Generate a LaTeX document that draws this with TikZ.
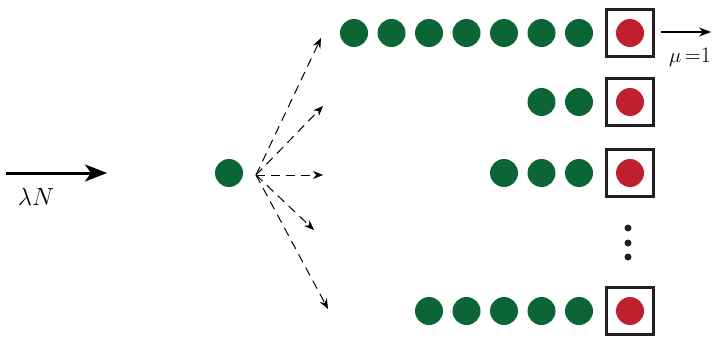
\documentclass[tikz,border=0pt]{standalone}
\usetikzlibrary{arrows.meta}
\definecolor{dgreen}{HTML}{0B6535}
\definecolor{dred}{HTML}{C0202E}
\definecolor{boxc}{HTML}{231F20}
\begin{document}
\begin{tikzpicture}[x=1pt,y=-1pt,
  gdot/.style={circle,fill=dgreen,minimum size=28pt,inner sep=0pt},
  rdot/.style={circle,fill=dred,minimum size=28pt,inner sep=0pt},
  server/.style={draw=boxc,line width=3pt,minimum size=47pt,inner sep=0pt},
  bdot/.style={circle,fill=boxc,minimum size=7pt,inner sep=0pt},
  darr/.style={dashed,dash pattern=on 9pt off 6pt,line width=1pt,-{Stealth[length=10pt,width=8pt]}},
  lbl/.style={inner sep=0pt,font=\fontsize{27}{30}\selectfont}]
\useasboundingbox (0,0) rectangle (714,337);
% arrival arrow
\coordinate (ain) at (6,173);
\coordinate (aout) at (107,173);
\draw[line width=3pt,-{Stealth[length=22pt,width=17pt,inset=6pt]}] (ain) -- (aout);
\node[lbl] (lam) at (36,197) {$\lambda N$};
% source
\node[gdot] (src) at (229,173) {};
\coordinate (o) at (256,175);
\coordinate (t1) at (321,38);
\coordinate (t2) at (323,106);
\coordinate (t3) at (323,175);
\coordinate (t4) at (314,230);
\coordinate (t5) at (328,309);
\foreach \t in {t1,t2,t3,t4,t5}
  \draw[darr] (o) -- (\t);
% servers
\foreach \n/\y in {1/33,2/102,3/173,5/311}{
  \node[server] (s\n) at (630,\y) {};
  \node[rdot] (r\n) at (630,\y) {};
}
% queues
\foreach \i/\x in {1/354,2/391.5,3/429,4/466.5,5/504,6/541.5,7/579}
  \node[gdot] (qa\i) at (\x,33) {};
\foreach \i/\x in {1/541.5,2/579}
  \node[gdot] (qb\i) at (\x,102) {};
\foreach \i/\x in {1/504,2/541.5,3/579}
  \node[gdot] (qc\i) at (\x,173) {};
\foreach \i/\x in {1/429,2/466.5,3/504,4/541.5,5/579}
  \node[gdot] (qe\i) at (\x,311) {};
% vertical dots
\node[bdot] (v1) at (628,228) {};
\node[bdot] (v2) at (628,243) {};
\node[bdot] (v3) at (628,257) {};
% departure
\coordinate (dout) at (711,32);
\draw[line width=1.2pt,-{Stealth[length=12pt,width=9pt]}] (s1.east) ++(6,-1) coordinate (din) -- (dout);
\node[inner sep=0pt,font=\fontsize{22}{24}\selectfont] (mu) at (690,57) {$\mu$\,=1};
\end{tikzpicture}
\end{document}
